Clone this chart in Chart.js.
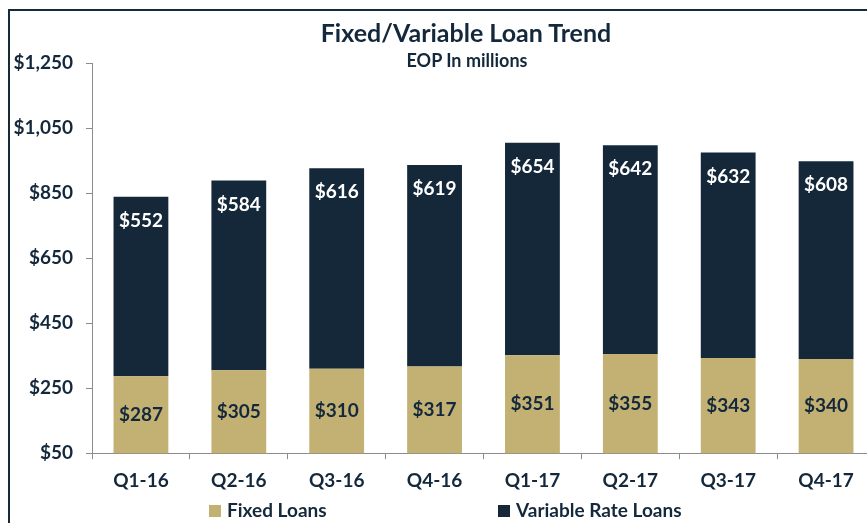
<!DOCTYPE html>
<html>
<head>
<meta charset="utf-8">
<script src="https://cdn.jsdelivr.net/npm/chart.js@4/dist/chart.umd.min.js"></script>
<style>
  html, body { margin: 0; padding: 0; background: #fff; overflow: hidden; }
  body { width: 867px; height: 523px; position: relative; font-family: Lato, "Open Sans", sans-serif; color: #14283c; }
  #frame { position: absolute; left: 8px; top: 9px; width: 900px; height: 600px;
           border-left: 2px solid #152a3b; border-top: 2px solid #152a3b; }
  #title { position: absolute; left: 0; width: 932px; top: 17px; text-align: center;
           font-weight: bold; font-size: 25px; line-height: 30px; }
  #subtitle { position: absolute; left: 0; width: 934px; top: 49px; text-align: center;
           font-weight: bold; font-size: 18px; line-height: 22px; }
  #wrap { position: absolute; left: 0; top: 0; width: 900px; height: 523px; }
  #legend { position: absolute; top: 499px; left: 209px; font-weight: bold; font-size: 19px; line-height: 22px; }
  #legend span.item { position: absolute; white-space: nowrap; }
  #legend i { display: inline-block; width: 12px; height: 12px; margin-right: 6px; vertical-align: 0px; }
</style>
</head>
<body>
<div id="frame"></div>
<div id="wrap"><canvas id="loanChart"></canvas></div>
<div id="title">Fixed/Variable Loan Trend</div>
<div id="subtitle">EOP In millions</div>
<div id="legend"></div>
<script>
var quarters = ["Q1-16", "Q2-16", "Q3-16", "Q4-16", "Q1-17", "Q2-17", "Q3-17", "Q4-17"];
var fixedLoans = [287, 305, 310, 317, 351, 355, 343, 340];
var variableLoans = [552, 584, 616, 619, 654, 642, 632, 608];
var yTicks = [50, 250, 450, 650, 850, 1050, 1250];

var tan = "#c2b172";
var navy = "#14283a";
var textColor = "#14283c";

function money(v) {
  return "$" + v.toLocaleString("en-US");
}

// draws the $ values inside each bar
var barLabels = {
  id: "barLabels",
  afterDatasetsDraw: function (chart) {
    var ctx = chart.ctx;
    ctx.save();
    ctx.font = "bold 19px Lato";
    ctx.textAlign = "center";
    ctx.textBaseline = "middle";
    chart.data.datasets.forEach(function (ds, i) {
      var meta = chart.getDatasetMeta(i);
      meta.data.forEach(function (bar, j) {
        var y;
        if (i == 0) {
          var bottom = Math.min(bar.base, chart.chartArea.bottom);
          y = (bar.y + bottom) / 2;
          ctx.fillStyle = textColor;
        } else {
          y = bar.y + 24;
          ctx.fillStyle = "#ffffff";
        }
        ctx.fillText(money(ds.data[j]), bar.x, y);
      });
    });
    ctx.restore();
  },
};

var ctx = document.getElementById("loanChart").getContext("2d");
var loanChart = new Chart(ctx, {
  type: "bar",
  data: {
    labels: quarters,
    datasets: [
      { label: "Fixed Loans", data: fixedLoans, backgroundColor: tan },
      { label: "Variable Rate Loans", data: variableLoans, backgroundColor: navy },
    ],
  },
  options: {
    responsive: true,
    maintainAspectRatio: false,
    animation: false,
    layout: { padding: { top: 63, right: 25, left: 0, bottom: 21 } },
    datasets: { bar: { barPercentage: 0.56, categoryPercentage: 1 } },
    scales: {
      x: {
        stacked: true,
        grid: { drawOnChartArea: false, tickLength: 6, color: "#8c8c8c" },
        border: { color: "#8c8c8c", width: 1 },
        ticks: { color: textColor, font: { family: "Lato", size: 19, weight: "bold" }, padding: 10 },
      },
      y: {
        stacked: true,
        min: 50,
        max: 1250,
        afterBuildTicks: function (scale) {
          scale.ticks = yTicks.map(function (v) { return { value: v }; });
        },
        afterFit: function (scale) { scale.width = 92; },
        grid: { drawOnChartArea: false, tickLength: 6, color: "#8c8c8c" },
        border: { color: "#8c8c8c", width: 1 },
        ticks: {
          color: textColor,
          font: { family: "Lato", size: 19, weight: "bold" },
          padding: 13,
          callback: function (v) { return money(v); },
        },
      },
    },
    plugins: {
      legend: { display: false },
      tooltip: { enabled: false },
    },
  },
  plugins: [barLabels],
});

// legend kept in html so the wide gap between the two items matches
var legendOffsets = [0, 289];
var legend = document.getElementById("legend");
loanChart.data.datasets.forEach(function (ds, i) {
  var item = document.createElement("span");
  item.className = "item";
  item.style.left = legendOffsets[i] + "px";
  item.innerHTML = '<i style="background:' + ds.backgroundColor + '"></i>' + ds.label;
  legend.appendChild(item);
});
</script>
</body>
</html>
